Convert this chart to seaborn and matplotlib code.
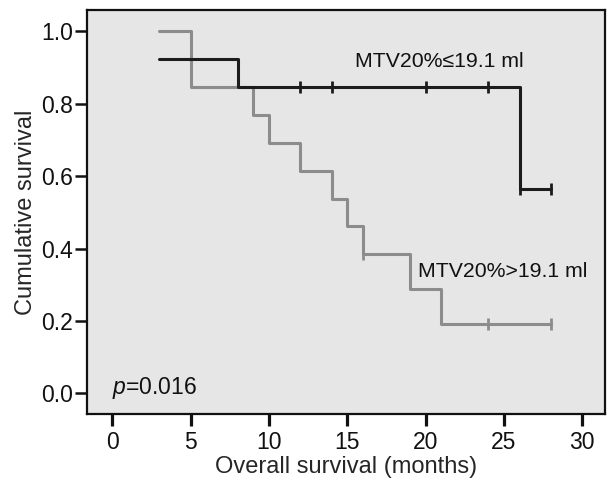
import numpy as np
import pandas as pd
import matplotlib
matplotlib.use("Agg")
import matplotlib.pyplot as plt
import seaborn as sns

# step curves (time in months, survival)
low_times = [3, 8, 26, 28]
low_surv = [0.923, 0.846, 0.564, 0.564]
high_times = [3, 5, 9, 10, 12, 14, 15, 16, 19, 21, 28]
high_surv = [1.0, 0.846, 0.769, 0.692, 0.615, 0.538, 0.462, 0.385, 0.288, 0.192, 0.192]

# censored observations
low_cens_t = [12, 14, 20, 24, 26, 28]
low_cens_s = [0.846, 0.846, 0.846, 0.846, 0.564, 0.564]
high_cens_t = [16, 24, 28]
high_cens_s = [0.385, 0.192, 0.192]

low_label = "MTV20%\u226419.1 ml"
high_label = "MTV20%>19.1 ml"
p_text = "$p$=0.016"

curves = pd.concat([
    pd.DataFrame({"time": high_times, "surv": high_surv, "group": high_label}),
    pd.DataFrame({"time": low_times, "surv": low_surv, "group": low_label}),
])
cens = pd.concat([
    pd.DataFrame({"time": high_cens_t, "surv": high_cens_s, "group": high_label}),
    pd.DataFrame({"time": low_cens_t, "surv": low_cens_s, "group": low_label}),
])
pal = {low_label: "#1c1c1c", high_label: "#8c8c8c"}

sns.set_style("ticks")
plt.rcParams['font.family'] = ['Liberation Sans', 'DejaVu Sans']
plt.rcParams['mathtext.fontset'] = 'custom'
plt.rcParams['mathtext.rm'] = 'Liberation Sans'
plt.rcParams['mathtext.it'] = 'Liberation Sans:italic'

fig = plt.figure(figsize=(6.08, 4.80), dpi=100)
ax = fig.add_axes([0.143, 0.1375, 0.852, 0.8415])
ax.set_facecolor("#e6e6e6")

sns.lineplot(data=curves, x="time", y="surv", hue="group", palette=pal,
             drawstyle="steps-post", linewidth=2.2, legend=False, ax=ax,
             estimator=None, sort=False)
sns.scatterplot(data=cens, x="time", y="surv", hue="group", palette=pal,
                marker="|", s=70, linewidth=2.0, legend=False, ax=ax, zorder=3)

ax.set_xlim(-1.61, 31.45)
ax.set_ylim(-0.057, 1.059)
ax.set_xticks([0, 5, 10, 15, 20, 25, 30])
ax.set_yticks([0.0, 0.2, 0.4, 0.6, 0.8, 1.0])
ax.set_yticklabels(["0.0", "0.2", "0.4", "0.6", "0.8", "1.0"])
ax.tick_params(axis="x", length=8.5, width=2.3, labelsize=16.5, colors="#111111", pad=3.5)
ax.tick_params(axis="y", length=8.5, width=1.8, labelsize=16.5, colors="#111111", pad=1.5)
for sp in ax.spines.values():
    sp.set_linewidth(1.6)
    sp.set_color("#111111")
ax.set_xlabel("Overall survival (months)", fontsize=17, labelpad=1.5)
ax.set_ylabel("Cumulative survival", fontsize=17, labelpad=3)

ax.text(15.5, 0.916, low_label, fontsize=15.3, va="center", ha="left", color="#111111")
ax.text(19.5, 0.336, high_label, fontsize=15.3, va="center", ha="left", color="#111111")
ax.text(0.0, 0.015, p_text, fontsize=16.5, va="center", ha="left", color="#111111")

fig.savefig("out.png", dpi=100)
